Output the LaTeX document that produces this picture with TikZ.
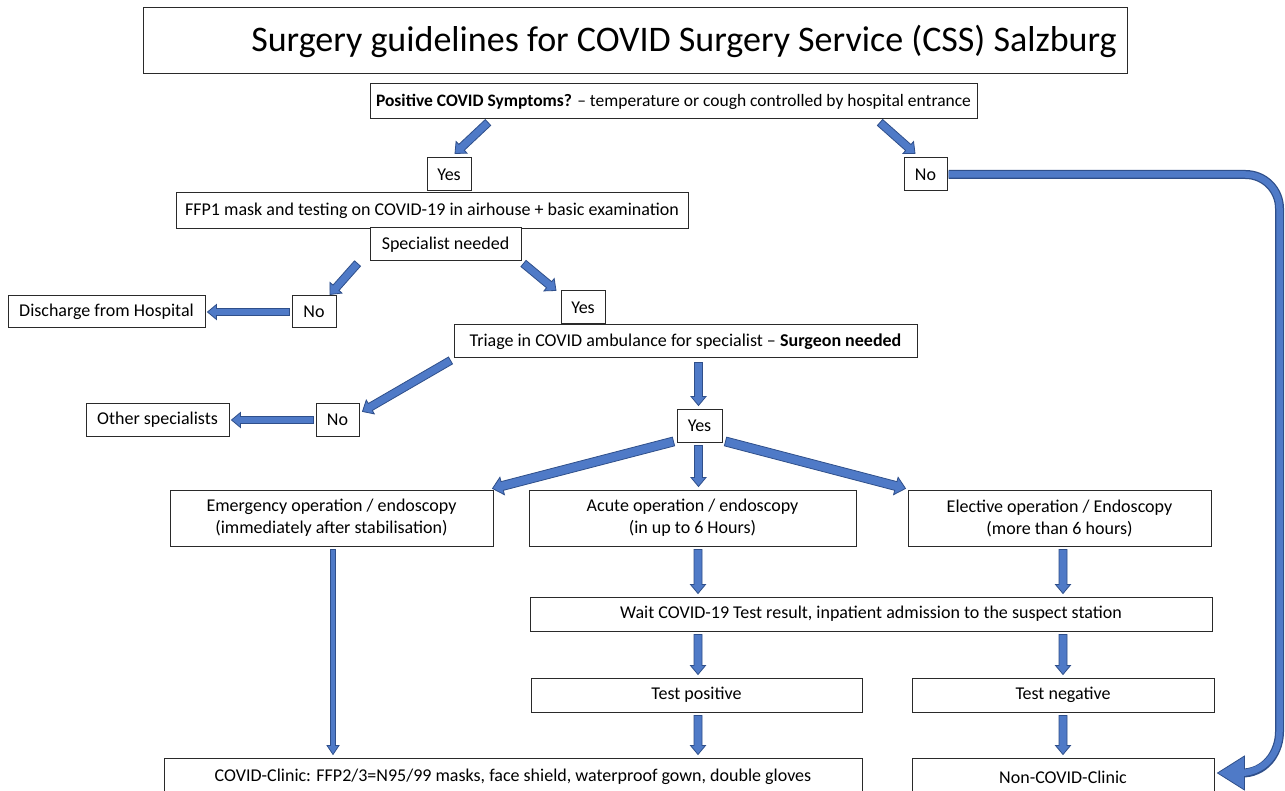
\documentclass[tikz,border=0pt]{standalone}
\usepackage{fontspec}
\setmainfont{Carlito}
\usetikzlibrary{calc}
\definecolor{afill}{HTML}{4F7AC7}
\definecolor{aline}{HTML}{2F4F8A}
\definecolor{bline}{HTML}{2A2A2A}
\tikzset{
  box/.style={draw=bline, line width=1pt, fill=white, inner sep=0pt, align=center,
    font=\fontsize{18}{22}\selectfont},
  barrow/.style={fill=afill, draw=aline, line width=0.8pt, line join=miter},
}
% block arrow: start, end, half shaft, half head, head length
\newcommand\barr[5]{%
  \coordinate (bS) at #1;
  \coordinate (bE) at #2;
  \coordinate (bH) at ($(bE)!#5!(bS)$);
  \draw[barrow] ($(bS)!#3!90:(bE)$) -- ($(bH)!#3!-90:(bS)$) -- ($(bH)!#4!-90:(bS)$)
    -- (bE) -- ($(bH)!#4!90:(bS)$) -- ($(bH)!#3!90:(bS)$) -- ($(bS)!#3!-90:(bE)$) -- cycle;
}
\begin{document}
\begin{tikzpicture}[x=1pt,y=-1pt]
\useasboundingbox (0,0) rectangle (1285,791);
\clip (0,0) rectangle (1285,791);
\fill[white] (0,0) rectangle (1285,791);

\node[box, minimum width=984, minimum height=66, font=\fontsize{36}{42}\selectfont] (title) at (635,41)
  {\hspace*{98pt}Surgery guidelines for COVID Surgery Service (CSS) Salzburg};
\node[box, minimum width=607, minimum height=35, font=\fontsize{17.5}{21}\selectfont] (q) at (673.5,101.5)
  {\textbf{Positive COVID Symptoms?} -- temperature or cough controlled by hospital entrance};
\node[box, minimum width=44, minimum height=33] (yes1) at (449,174.5) {Yes};
\node[box, minimum width=43, minimum height=33] (no1) at (925.5,174.5) {No};
\node[box, minimum width=512, minimum height=36] (ffp) at (432,211)
  {FFP1 mask and testing on COVID-19 in airhouse + basic examination};
\node[box, minimum width=151, minimum height=33] (spec) at (445.5,244.5) {Specialist needed};
\node[box, minimum width=197, minimum height=32] (disch) at (106.5,312) {Discharge from Hospital};
\node[box, minimum width=44, minimum height=32] (no2) at (314,312) {No};
\node[box, minimum width=44, minimum height=33] (yes2) at (583,307.5) {Yes};
\node[box, minimum width=463, minimum height=33] (triage) at (685.5,341.5)
  {Triage in COVID ambulance for specialist -- \textbf{Surgeon needed}};
\node[box, minimum width=143, minimum height=32] (other) at (157.5,420) {Other specialists};
\node[box, minimum width=43, minimum height=32] (no3) at (337.5,420) {No};
\node[box, minimum width=45, minimum height=33] (yes3) at (699.5,425.5) {Yes};
\node[box, minimum width=323, minimum height=56] (emerg) at (331.5,518)
  {Emergency operation / endoscopy\\(immediately after stabilisation)};
\node[box, minimum width=327, minimum height=56] (acute) at (692.5,518)
  {Acute operation / endoscopy\\(in up to 6 Hours)};
\node[box, minimum width=303, minimum height=56] (elective) at (1059.5,518)
  {Elective operation / Endoscopy\\(more than 6 hours)};
\node[box, minimum width=682, minimum height=34] (wait) at (871,614)
  {Wait COVID-19 Test result, inpatient admission to the suspect station};
\node[box, minimum width=331, minimum height=34] (testpos) at (696.5,695) {Test positive};
\node[box, minimum width=302, minimum height=34] (testneg) at (1063,695) {Test negative};
\node[box, minimum width=698, minimum height=38] (covid) at (513,777)
  {COVID-Clinic: FFP2/3=N95/99 masks, face shield, waterproof gown, double gloves};
\node[box, minimum width=302, minimum height=38] (noncovid) at (1063,777) {Non-COVID-Clinic};

% arrows
\barr{($(q.south)+(-185.5,3)$)}{($(yes1.north)+(6,-4)$)}{4pt}{8pt}{9pt}
\barr{($(q.south)+(206.5,3)$)}{($(no1.north)+(-10.5,-4)$)}{4pt}{8pt}{9pt}
\barr{($(spec.south)+(-88,2)$)}{($(no2.north)+(16,-1)$)}{4pt}{8pt}{9pt}
\barr{($(spec.south)+(78,2)$)}{($(yes2.north)+(-27,0)$)}{4pt}{8pt}{9pt}
\barr{($(no2.west)+(-2,0)$)}{($(disch.east)+(2,0)$)}{3.5pt}{7.5pt}{9pt}
\barr{($(triage.south west)+(-3,2)$)}{($(no3.north east)+(3,8)$)}{4pt}{8pt}{9pt}
\barr{($(no3.west)+(-2,0)$)}{($(other.east)+(2,0)$)}{3.5pt}{7.5pt}{9pt}
\barr{($(triage.south -| yes3.north)+(-1,4)$)}{($(yes3.north)+(-1,-3)$)}{4pt}{7.5pt}{9pt}
\barr{($(yes3.south west)+(-3,-1)$)}{($(emerg.north east)+(-1,-1)$)}{4.5pt}{9pt}{10pt}
\barr{($(yes3.south)+(-1,3)$)}{($(acute.north -| yes3.south)+(-1,-3)$)}{4pt}{7.5pt}{9pt}
\barr{($(yes3.south east)+(3,-1)$)}{($(elective.north west)+(-2,-1)$)}{4.5pt}{9pt}{10pt}
\barr{($(emerg.south)+(1.5,3)$)}{($(covid.north -| emerg.south)+(1.5,-3)$)}{2.5pt}{6pt}{9pt}
\barr{($(acute.south)+(5.5,3)$)}{($(wait.north -| acute.south)+(5.5,-3)$)}{4pt}{7.5pt}{9pt}
\barr{($(elective.south)+(3.5,3)$)}{($(wait.north -| elective.south)+(3.5,-3)$)}{4pt}{7.5pt}{9pt}
\barr{($(wait.south -| testpos.north)+(1.5,3)$)}{($(testpos.north)+(1.5,-3)$)}{4pt}{7.5pt}{9pt}
\barr{($(wait.south -| testneg.north)+(0,3)$)}{($(testneg.north)+(0,-3)$)}{4pt}{7.5pt}{9pt}
\barr{($(testpos.south)+(1.5,3)$)}{($(covid.north -| testpos.south)+(1.5,-3)$)}{4pt}{7.5pt}{9pt}
\barr{($(testneg.south)+(0,3)$)}{($(noncovid.north -| testneg.south)+(0,-3)$)}{4pt}{7.5pt}{9pt}

% curved arrow No -> Non-COVID-Clinic
\coordinate (cA) at ($(no1.east)+(1,0)$);
\coordinate (cB) at ($(no1.east)+(332,0)$);
\coordinate (cC) at ($(cB |- noncovid.north)+(0,-60)$);
\coordinate (cD) at ($(noncovid.east)+(30,-4)$);
\coordinate (cT) at ($(noncovid.east)+(3,-4)$);
\draw[aline, line width=9pt, rounded corners=34pt] (cA) -- (cB) -- (cC)
  [sharp corners] .. controls ($(cC)+(0,52)$) and ($(cD)+(24,-2)$) .. (cD);
\draw[barrow] ($(cD)+(0,-17)$) -- (cT) -- ($(cD)+(0,17)$) -- cycle;
\draw[afill, line width=6.5pt, rounded corners=34pt] (cA) -- (cB) -- (cC)
  [sharp corners] .. controls ($(cC)+(0,52)$) and ($(cD)+(24,-2)$) .. ($(cD)+(-3,0)$);
\end{tikzpicture}
\end{document}
